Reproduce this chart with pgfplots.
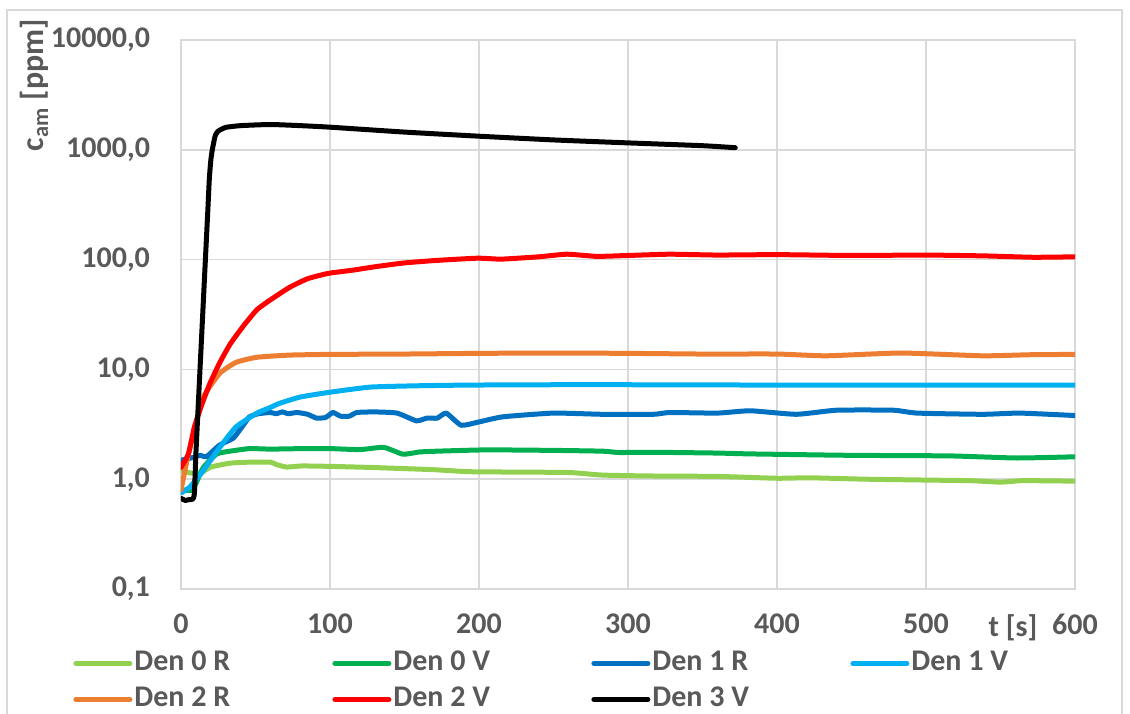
\documentclass[border=0pt]{standalone}
\usepackage{fontspec}
\setmainfont{Carlito}
\usepackage{pgfplots}
\pgfplotsset{compat=1.18}
\definecolor{c0r}{HTML}{92D050}
\definecolor{c0v}{HTML}{00B050}
\definecolor{c1r}{HTML}{0070C0}
\definecolor{c1v}{HTML}{00B0F0}
\definecolor{c2r}{HTML}{ED7D31}
\definecolor{c2v}{HTML}{FF0000}
\definecolor{gridgray}{HTML}{D9D9D9}
\definecolor{labgray}{HTML}{595959}
\begin{document}
\begin{tikzpicture}
\useasboundingbox (-90.5pt,-62pt) rectangle (474.5pt,294.5pt);
\draw[gridgray, line width=0.8pt] (-87pt,-75pt) rectangle (470.5pt,289.5pt);
\begin{axis}[at={(0,0)}, anchor=south west, scale only axis,
  width=447pt, height=274.5pt,
  xmin=0, xmax=600, ymin=0.1, ymax=10000, ymode=log,
  xtick={0,100,200,300,400,500,600},
  xticklabels={0,100,200,300,400,500,600},
  ytick={0.1,1,10,100,1000,10000},
  yticklabels={{0,1},{1,0},{10,0},{100,0},{1000,0},{10000,0}},
  grid=major, major grid style={draw=gridgray, line width=0.8pt},
  axis line style={draw=gridgray, line width=0.8pt},
  tick style={draw=none},
  ticklabel style={font=\fontsize{15}{17}\selectfont\bfseries, text=labgray},
  /pgf/number format/assume math mode=true,
  yticklabel style={xshift=-12pt},
  xticklabel style={yshift=-9pt},
  legend columns=4,
  legend style={at={(-0.1208,-0.1020)}, anchor=north west, draw=none, fill=none,
    inner sep=0pt, row sep=0pt,
    nodes={inner sep=1pt, text height=11.5pt, text depth=4.5pt},
    font=\fontsize{15}{17}\selectfont\bfseries, text=labgray,
    /tikz/every even column/.append style={column sep=0pt}},
  legend image code/.code={\draw[#1, line width=2.5pt] (0pt,0pt) -- (27pt,0pt);},
  every axis plot/.append style={line width=2.5pt, line join=round, line cap=round, smooth, tension=0.3},
]
\addplot[c0r] table {
0 1.20
5 1.15
10 1.12
13 1.13
20 1.29
33 1.40
46 1.43
60 1.43
64 1.36
71 1.29
81 1.32
99 1.31
127 1.28
149 1.25
170 1.22
194 1.17
230 1.16
261 1.15
283 1.09
315 1.07
360 1.06
400 1.02
422 1.03
460 1.00
505 0.98
530 0.97
550 0.94
565 0.97
600 0.96
};
\addlegendentry{\makebox[98pt][l]{Den 0 R}}
\addplot[c0v] table {
0 0.80
5 0.79
8 0.80
11 0.98
15 1.28
24 1.70
33 1.80
46 1.90
60 1.88
82 1.90
100 1.90
120 1.86
136 1.95
149 1.69
160 1.77
172 1.80
205 1.85
250 1.83
283 1.80
294 1.75
315 1.76
360 1.73
382 1.70
449 1.65
516 1.63
561 1.56
600 1.60
};
\addlegendentry{\makebox[98pt][l]{Den 0 V}}
\addplot[c1r] table {
0 1.49
6 1.55
13 1.65
17 1.60
26 2.05
35 2.36
41 3.0
46 3.7
52 3.95
60 4.05
64 3.95
68 4.1
72 3.95
78 4.05
85 3.9
91 3.6
97 3.65
102 4.05
107 3.75
113 3.75
118 4.05
130 4.1
145 4.0
158 3.4
165 3.6
172 3.6
178 4.0
188 3.1
199 3.3
216 3.7
250 4.0
283 3.9
317 3.9
328 4.05
360 4.0
382 4.2
413 3.9
440 4.25
478 4.25
494 4.0
538 3.9
563 4.0
600 3.8
};
\addlegendentry{\makebox[98pt][l]{Den 1 R}}
\addplot[c1v] table {
0 0.75
6 0.85
15 1.2
26 1.95
37 3.0
51 4.0
60 4.5
66 4.9
80 5.6
100 6.2
127 6.9
160 7.1
194 7.2
250 7.25
300 7.25
400 7.2
500 7.2
600 7.2
};
\addlegendentry{\makebox[98pt][l]{Den 1 V}}
\addplot[c2r] table {
0 0.80
5 1.7
9 2.8
15 5.6
26 9.2
37 11.6
51 12.9
73 13.5
100 13.7
150 13.8
200 14.0
250 14.1
300 14.0
350 13.8
400 13.8
433 13.3
483 14.1
538 13.3
570 13.6
600 13.7
};
\addlegendentry{\makebox[98pt][l]{Den 2 R}}
\addplot[c2v] table {
0 1.28
5 1.7
9 3.0
14 4.8
19.5 7.5
26 11.5
33 17
42 25
51 35
60 43
73 56
85 67
99 75
115 80
130 86
149 93
170 98
199 103
215 101
240 106
259 112
279 107
300 109
328 112
360 110
400 111
450 109
500 110
540 108
572 105
600 106
};
\addlegendentry{\makebox[98pt][l]{Den 2 V}}
\addplot[black] table {
0 0.67
3 0.64
5 0.65
8 0.66
9 0.75
10 1.7
12 6.2
14 22
16 79
18 280
19 540
20 800
21 1000
23 1350
25 1480
30 1600
40 1660
60 1700
80 1660
100 1607
150 1450
200 1330
250 1230
300 1156
350 1090
372 1045
};
\addlegendentry{\makebox[98pt][l]{Den 3 V}}
\end{axis}
\node[rotate=90, text=labgray, font=\fontsize{16}{18}\selectfont\bfseries] at (-73.5pt,252pt) {c\textsubscript{am} [ppm]};
\node[text=labgray, font=\fontsize{15}{17}\selectfont\bfseries] at (416pt,-19.5pt) {t [s]};
\end{tikzpicture}
\end{document}
